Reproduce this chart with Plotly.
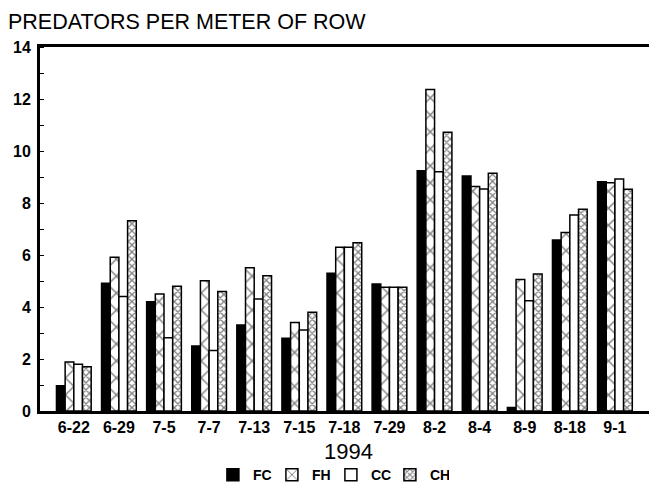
import plotly.graph_objects as go

dates = ["6-22", "6-29", "7-5", "7-7", "7-13", "7-15", "7-18", "7-29", "8-2", "8-4", "8-9", "8-18", "9-1"]
fc = [0.97, 4.91, 4.2, 2.5, 3.31, 2.8, 5.3, 4.88, 9.24, 9.04, 0.13, 6.58, 8.82]
fh = [1.88, 5.91, 4.5, 5.01, 5.51, 3.4, 6.3, 4.76, 12.37, 8.63, 5.06, 6.87, 8.78]
cc = [1.8, 4.4, 2.82, 2.33, 4.31, 3.12, 6.3, 4.76, 9.2, 8.54, 4.24, 7.54, 8.92]
ch = [1.7, 7.32, 4.8, 4.6, 5.2, 3.8, 6.47, 4.76, 10.72, 9.14, 5.27, 7.76, 8.53]
y_ticks = [0, 2, 4, 6, 8, 10, 12, 14]

FONT = "Liberation Sans"
line = dict(color="black", width=1.5)

fig = go.Figure()
fig.add_trace(go.Bar(name="FC", x=dates, y=fc,
                     marker=dict(color="black", line=line)))
fig.add_trace(go.Bar(name="FH", x=dates, y=fh,
                     marker=dict(color="white", line=line,
                                 pattern=dict(shape="x", size=12, solidity=0.22,
                                              fgcolor="black", bgcolor="white"))))
fig.add_trace(go.Bar(name="CC", x=dates, y=cc,
                     marker=dict(color="white", line=line)))
fig.add_trace(go.Bar(name="CH", x=dates, y=ch,
                     marker=dict(color="white", line=line,
                                 pattern=dict(shape="x", size=5, solidity=0.45,
                                              fgcolor="black", bgcolor="white"))))

fig.update_layout(
    width=649, height=490,
    margin=dict(l=32, r=3, t=39, b=87),
    paper_bgcolor="white", plot_bgcolor="white",
    barmode="group", bargap=0.23, bargroupgap=0,
    font=dict(family=FONT, color="black"),
    showlegend=True,
    legend=dict(orientation="h", x=0.283, xanchor="left", y=-0.176, yanchor="middle",
                font=dict(size=14, weight="bold"), traceorder="normal",
                itemwidth=30, tracegroupgap=0,
                entrywidth=14, entrywidthmode="pixels"),
    xaxis=dict(range=[-0.75, 12.8], showline=True, linecolor="black", linewidth=2.5,
               mirror=True, ticks="", showgrid=False,
               tickfont=dict(size=16, weight="bold")),
    yaxis=dict(range=[0, 14], tickvals=y_ticks, showline=True, linecolor="black",
               linewidth=3, mirror=True, ticks="", showgrid=False, zeroline=False,
               tickfont=dict(size=16, weight="bold"), ticklabelstandoff=3,
               minor=dict(ticks="inside", ticklen=4, dtick=1, tickcolor="black")),
    annotations=[
        dict(text="PREDATORS PER METER OF ROW", xref="paper", yref="paper",
             x=-0.055, y=1.069, xanchor="left", yanchor="middle", showarrow=False,
             font=dict(size=21.5, family=FONT)),
        dict(text="1994", xref="paper", yref="paper", x=0.505, y=-0.11,
             xanchor="center", yanchor="middle", showarrow=False,
             font=dict(size=22, family=FONT)),
    ],
)

fig.write_html("out.html")
